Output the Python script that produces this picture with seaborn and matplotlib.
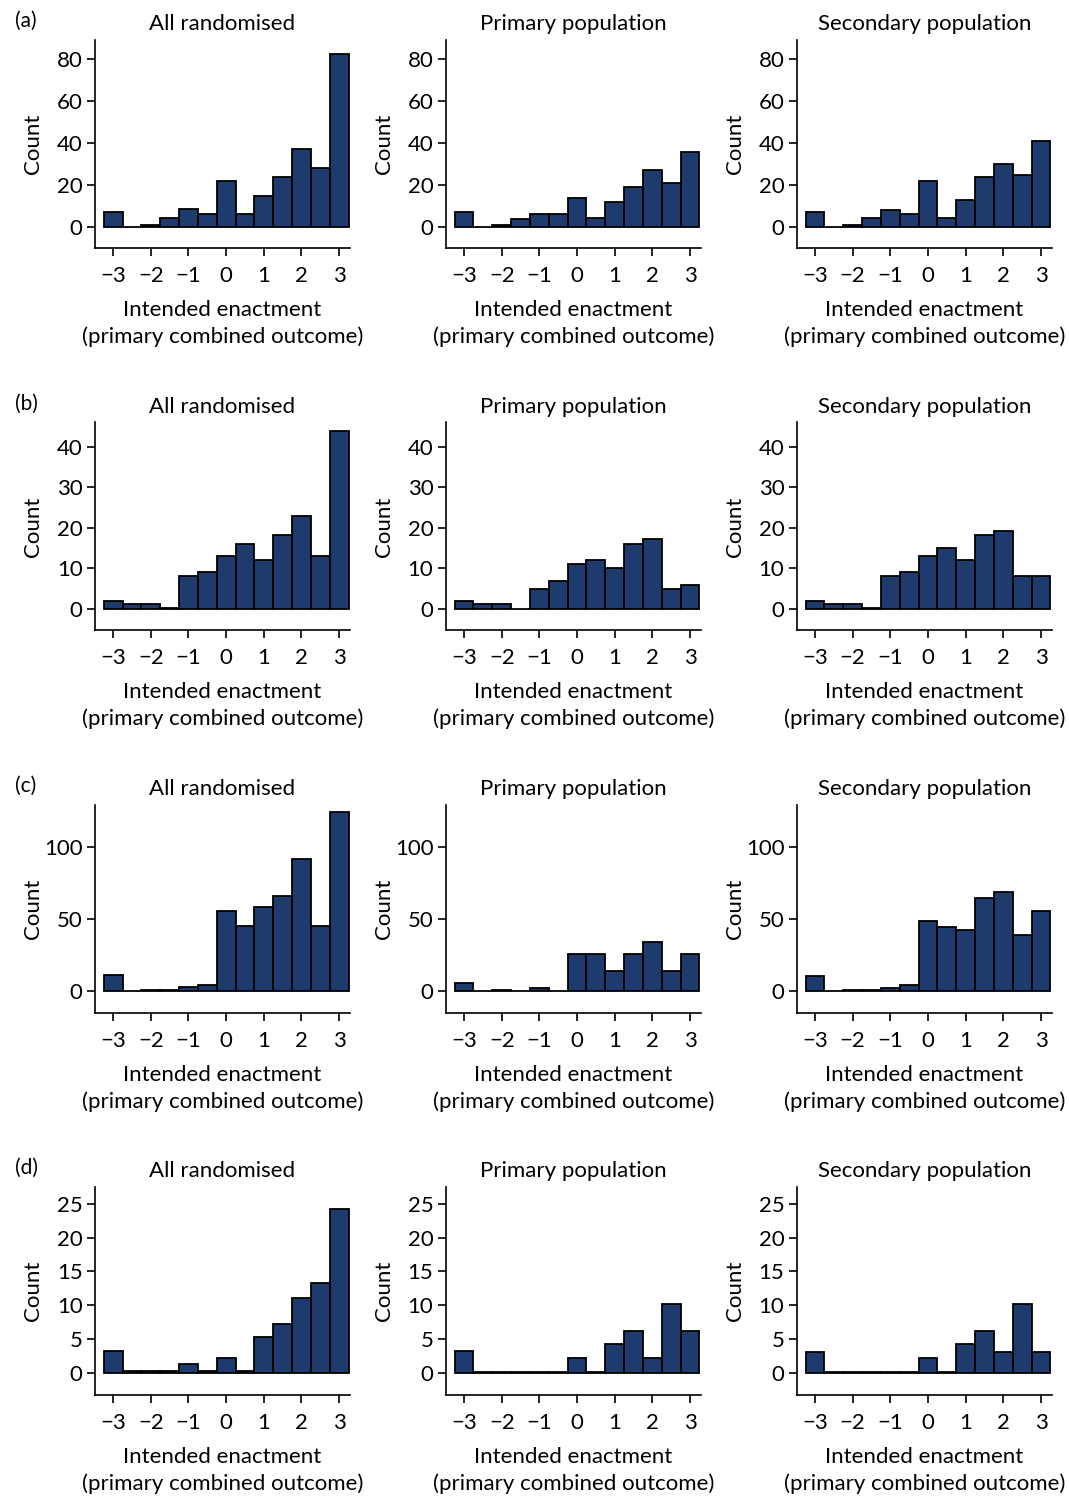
import numpy as np
import pandas as pd
import seaborn as sns
import matplotlib.pyplot as plt

# bin centres of the enactment score (width 0.5)
bin_centres = [-3, -2.5, -2, -1.5, -1, -0.5, 0, 0.5, 1, 1.5, 2, 2.5, 3]
populations = ["All randomised", "Primary population", "Secondary population"]
row_labels = ["(a)", "(b)", "(c)", "(d)"]

# counts read per row: all randomised, primary, secondary
a_all = [7, 0, 1, 4.5, 8.6, 6, 22, 6, 15, 24, 37, 28, 82.5]
a_primary = [7, 0, 1, 4, 6, 6, 14, 4.5, 12, 19, 27, 21, 35.5]
a_secondary = [7, 0, 1, 4.5, 8, 6, 22, 4.5, 13, 24, 30, 25, 41]

b_all = [2, 1.1, 1.1, 0.25, 8.1, 9.1, 13.1, 16.1, 12, 18.2, 23, 13.1, 43.8]
b_primary = [2, 1.1, 1.1, 0, 5, 7, 11, 12, 10, 16.1, 17.2, 5, 6]
b_secondary = [2, 1.1, 1.1, 0.25, 8, 9, 13, 15, 12, 18.2, 19.2, 8, 8]

c_all = [11, 0, 1, 1, 3, 4, 55.5, 45, 58, 66, 91.5, 45, 124]
c_primary = [5.6, 0, 0.8, 0, 2.3, 0, 25.3, 25.3, 13.7, 25.3, 34, 13.7, 25.3]
c_secondary = [10.5, 0, 0.9, 0.9, 2.3, 4, 48.8, 44.4, 42, 64.2, 68.8, 38.6, 55.6]

d_all = [3.2, 0.3, 0.3, 0.3, 1.3, 0.3, 2.2, 0.3, 5.3, 7.2, 11.1, 13.3, 24.2]
d_primary = [3.2, 0.15, 0.15, 0.15, 0.15, 0.15, 2.2, 0.15, 4.2, 6.2, 2.2, 10.2, 6.2]
d_secondary = [3.1, 0.15, 0.15, 0.15, 0.15, 0.15, 2.2, 0.15, 4.2, 6.2, 3.1, 10.2, 3.1]

rows = [
    [a_all, a_primary, a_secondary],
    [b_all, b_primary, b_secondary],
    [c_all, c_primary, c_secondary],
    [d_all, d_primary, d_secondary],
]
row_yticks = [
    [0, 20, 40, 60, 80],
    [0, 10, 20, 30, 40],
    [0, 50, 100],
    [0, 5, 10, 15, 20, 25],
]
row_ylims = [(-10, 89), (-5.3, 46), (-15, 129), (-3.3, 27.5)]

BAR_COLOUR = "#1d3b6c"

sns.set_style("ticks", {
    "axes.edgecolor": "black",
    "axes.labelcolor": "black",
    "text.color": "black",
    "xtick.color": "black",
    "ytick.color": "black",
})
plt.rcParams["font.family"] = ["Lato", "DejaVu Sans"]
plt.rcParams["axes.linewidth"] = 1.2
plt.rcParams["xtick.major.width"] = 1.2
plt.rcParams["ytick.major.width"] = 1.2
plt.rcParams["xtick.major.size"] = 6
plt.rcParams["ytick.major.size"] = 6

fig, axes = plt.subplots(4, 3, figsize=(10.69, 14.97), dpi=100)
fig.subplots_adjust(left=0.0889, right=0.984, top=0.9733, bottom=0.0681,
                    wspace=0.376, hspace=0.837)

for r, row in enumerate(rows):
    for c, counts in enumerate(row):
        ax = axes[r, c]
        df = pd.DataFrame({"score": bin_centres, "count": counts})
        sns.histplot(data=df, x="score", weights="count",
                     binwidth=0.5, binrange=(-3.25, 3.25),
                     color=BAR_COLOUR, alpha=1, edgecolor="black",
                     linewidth=1.3, ax=ax)
        ax.set_xlim(-3.48, 3.29)
        ax.set_ylim(*row_ylims[r])
        ax.set_yticks(row_yticks[r])
        ax.set_xticks([-3, -2, -1, 0, 1, 2, 3])
        ax.tick_params(axis="y", labelsize=16, pad=3)
        ax.tick_params(axis="x", labelsize=16, pad=7)
        ax.set_xlabel("Intended enactment\n(primary combined outcome)",
                      fontsize=16, labelpad=10, linespacing=1.38)
        ax.set_ylabel("Count", fontsize=16)
        # keep "Count" at the same spot whatever the tick label width
        ax.yaxis.set_label_coords(-0.205, 0.5)
        ax.set_title(populations[c], fontsize=16, pad=7)
        sns.despine(ax=ax)
        if c == 0:
            ax.text(-0.315, 1.09, row_labels[r], transform=ax.transAxes,
                    fontsize=15, ha="left", va="center")

fig.savefig("out.png", dpi=100)
